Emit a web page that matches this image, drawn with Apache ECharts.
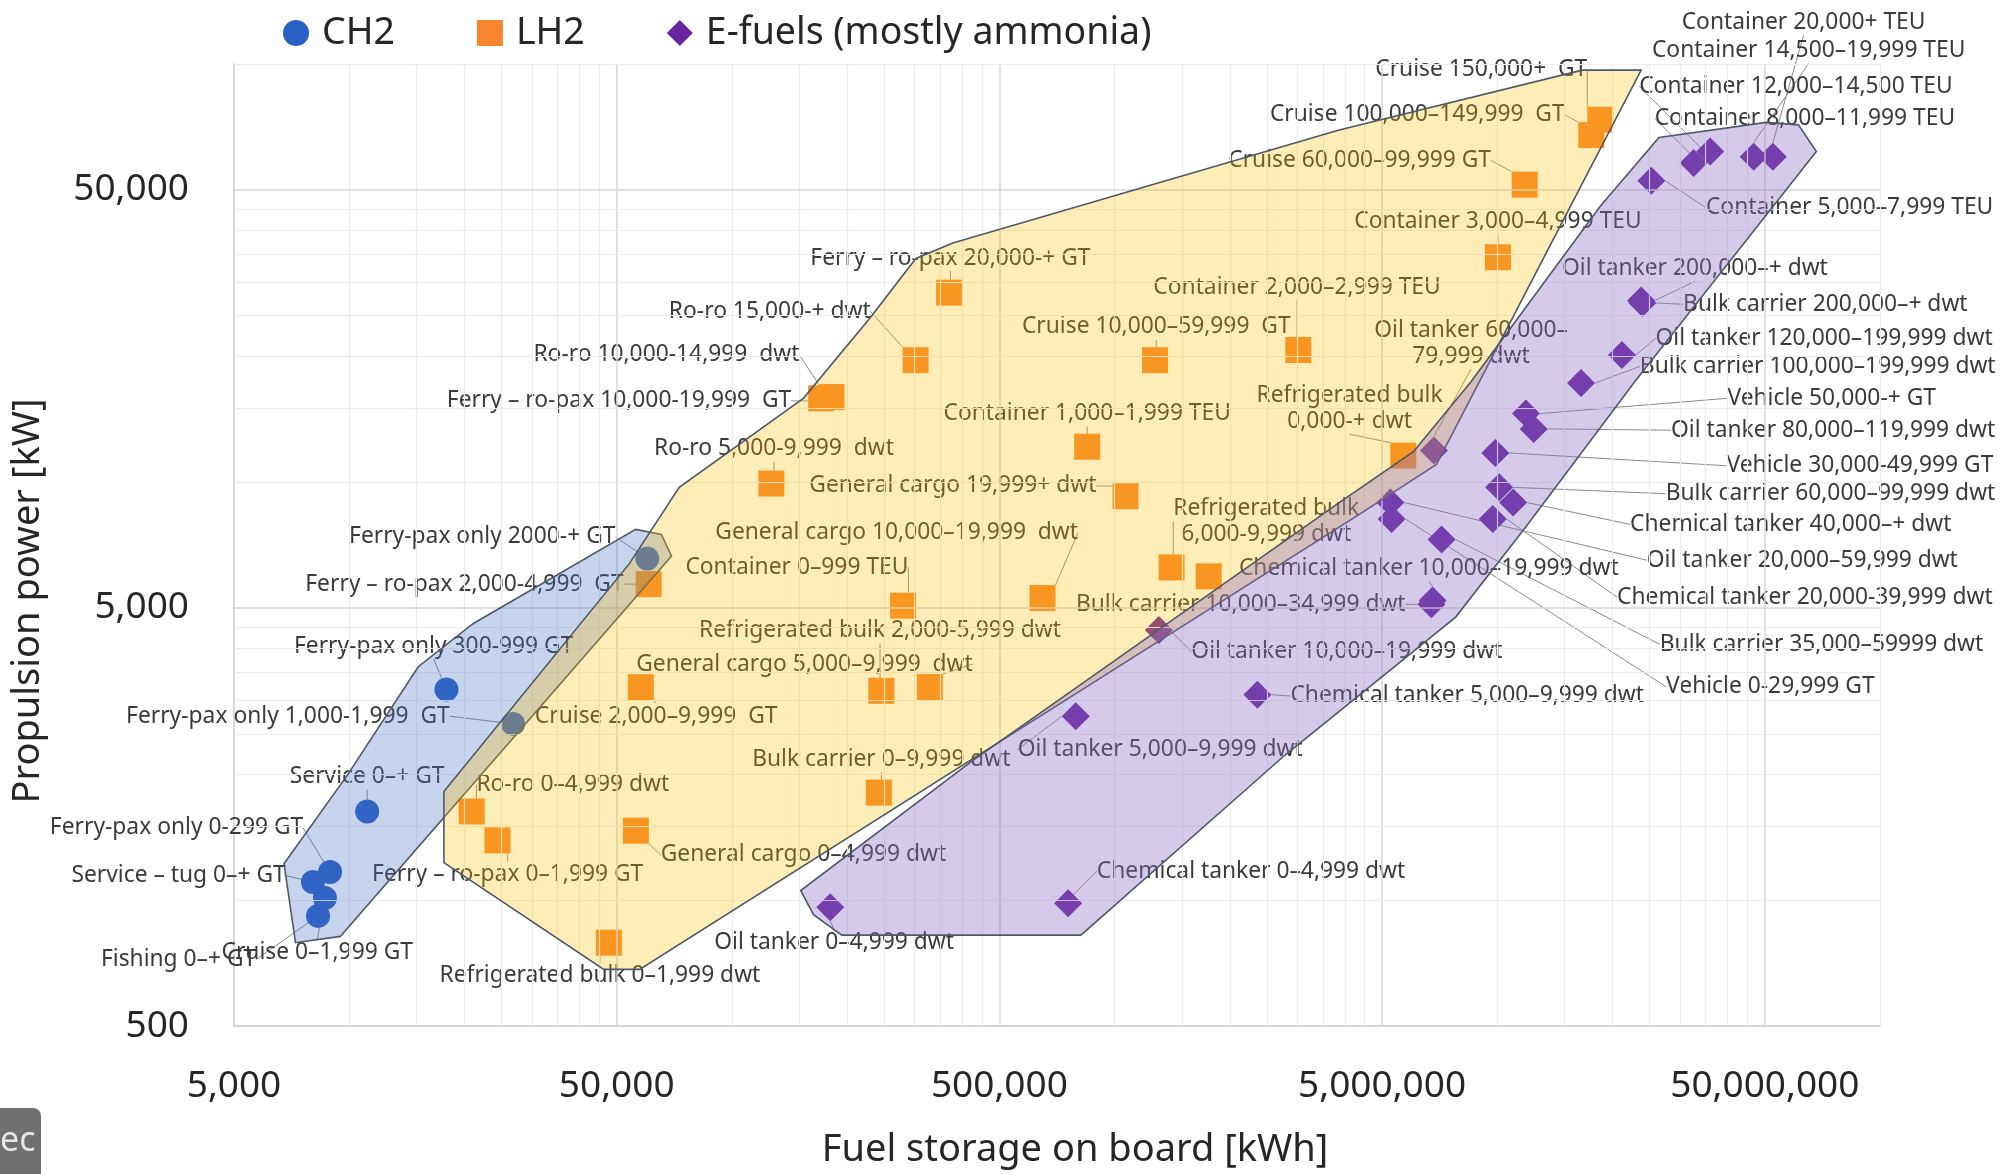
<!DOCTYPE html>
<html>
<head>
<meta charset="utf-8">
<script src="https://cdn.jsdelivr.net/npm/echarts@6/dist/echarts.min.js"></script>
<style>
html,body{margin:0;padding:0;background:#ffffff;}
#chart{width:2006px;height:1174px;}
</style>
</head>
<body>
<div id="chart"></div>
<script>
// ---------------- DATA ----------------
const xTickValues = [5000, 50000, 500000, 5000000, 50000000];
const yTickValues = [500, 5000, 50000];

const ch2Names = ['Ferry-pax only 2000-+ GT','Ferry-pax only 300-999 GT','Ferry-pax only 1,000-1,999  GT','Service 0–+ GT','Ferry-pax only 0-299 GT','Service – tug 0–+ GT','Cruise 0–1,999 GT','Fishing 0–+ GT'];
const ch2Fuel  = [60100, 17950, 26800, 11140, 8910, 8040, 8640, 8290];
const ch2Power = [6560, 3190, 2640, 1630, 1167, 1105, 1012, 917];

const lh2Names = ['Ferry – ro-pax 2,000-4,999  GT','Cruise 2,000–9,999  GT','Ro-ro 0–4,999 dwt','Ferry – ro-pax 0–1,999 GT','General cargo 0–4,999 dwt','Refrigerated bulk 0–1,999 dwt','Ro-ro 5,000-9,999  dwt','Ferry – ro-pax 10,000-19,999  GT','Ro-ro 10,000-14,999  dwt','Ro-ro 15,000-+ dwt','Ferry – ro-pax 20,000-+ GT','General cargo 19,999+ dwt','General cargo 10,000–19,999  dwt','Container 0–999 TEU','Refrigerated bulk 2,000-5,999 dwt','General cargo 5,000–9,999  dwt','Bulk carrier 0–9,999 dwt','Container 1,000–1,999 TEU','Cruise 10,000–59,999  GT','Container 2,000–2,999 TEU','Refrigerated bulk\n6,000-9,999 dwt','Bulk carrier 10,000–34,999 dwt','Refrigerated bulk\n0,000-+ dwt','Container 3,000–4,999 TEU','Cruise 60,000–99,999 GT','Cruise 100,000–149,999  GT','Cruise 150,000+  GT'];
const lh2Fuel  = [60600, 57800, 20900, 24400, 56100, 47700, 126800, 171100, 182000, 302000, 369500, 1068000, 648000, 280100, 245700, 329000, 242000, 848000, 1275000, 3020000, 1409000, 1762000, 5680000, 10040000, 11790000, 17600000, 18580000];
const lh2Power = [5700, 3230, 1630, 1390, 1466, 791, 9920, 15860, 15970, 19570, 28380, 9250, 5280, 5063, 3167, 3234, 1808, 12150, 19570, 20700, 6250, 5950, 11570, 34500, 51450, 67600, 73550];

const efNames = ['Oil tanker 0–4,999 dwt','Chemical tanker 0–4,999 dwt','Oil tanker 5,000–9,999 dwt','Chemical tanker 5,000–9,999 dwt','Oil tanker 10,000–19,999 dwt','Bulk carrier 10,000–34,999 dwt','Chemical tanker 10,000–19,999 dwt','Oil tanker 20,000–59,999 dwt','Vehicle 0-29,999 GT','Bulk carrier 35,000–59999 dwt','Chemical tanker 20,000-39,999 dwt','Bulk carrier 60,000–99,999 dwt','Chemical tanker 40,000–+ dwt','Vehicle 30,000-49,999 GT','Vehicle 50,000-+ GT','Oil tanker 80,000–119,999 dwt','Oil tanker 60,000–\n79,999 dwt','Bulk carrier 100,000–199,999 dwt','Oil tanker 120,000–199,999 dwt','Oil tanker 200,000–+ dwt','Bulk carrier 200,000–+ dwt','Container 5,000–7,999 TEU','Container 8,000–11,999 TEU','Container 12,000–14,500 TEU','Container 14,500–19,999 TEU','Container 20,000+ TEU'];
const efFuel  = [180700, 756000, 791600, 2361000, 1305000, 6725000, 6776000, 5255000, 5296000, 7150000, 9730000, 10110000, 11000000, 9880000, 11880000, 12450000, 6830000, 16550000, 21170000, 23760000, 23940000, 25260000, 32580000, 36000000, 46760000, 52490000];
const efPower = [962, 983, 2753, 3100, 4430, 5100, 5207, 8930, 8155, 7290, 8155, 9715, 8930, 11740, 14580, 13400, 11900, 17250, 20130, 27200, 26810, 52550, 57960, 61740, 60040, 60040];

// Region outlines (hull vertices, in data units)
const ch2RegionFuel  = [6755, 7240, 9477, 69550, 65400, 56060, 21110, 15150, 9850];
const ch2RegionPower = [1222, 791, 819, 6655, 7496, 7708, 4590, 3617, 1980];
const lh2RegionFuel  = [17680, 17680, 53960, 72850, 153700, 229300, 302500, 378000, 3863000, 16670000, 23760000, 6934000, 4370000, 57400, 46260];
const lh2RegionPower = [1230, 1820, 6381, 9715, 15860, 24660, 34280, 37300, 69550, 96660, 96660, 11020, 8385, 683, 683];
const efRegionFuel  = [151300, 163400, 193600, 816500, 2775000, 7785000, 11880000, 22860000, 68190000, 61200000, 50500000, 26450000, 18580000, 8537000, 6037000, 3863000, 424600];
const efRegionPower = [1054, 923, 825, 825, 2215, 4754, 7819, 17370, 61740, 71520, 72500, 66690, 45680, 17370, 11820, 8930, 2154];

// ---------------- LAYOUT (label offsets, reference units) ----------------
const K = 1.2793;
const ch2LabelOffset = [[-129,-17],[-10,-34],[-176,-6],[0,-27],[-120,-34.5],[-105,-5],[-6,43],[-109,34]];
const lh2LabelOffset = [[-144,0],[12,23],[79,-21],[8,27],[131,19],[-7,26],[2,-27],[-158,2],[-129,-33],[-114,-38],[1,-27],[-135,-8],[-114,-51],[-83,-30],[-1,-47],[-98,-18],[2,-26],[0,-26],[1,-26],[-1,-49],[74,-36],null,[-42,-37],[0,-28],[-129,-19],[-136,-16],[-93,-39]];
const efLabelOffset = [[3,28],[143,-25],[66,26],[164,1],[147,17],[-149,0],[-3,-25],[322,45],[296,131],[297,82],[244,61],[259,5],[217,17],[285,10],[239,-12],[234,1],[29,-84],[185,-13],[158,-13],[42,-25],[143,1],[155,21],[87,-35],[67,-51],[43,-83],[24,-105]];

const FONT = '"Noto Sans", "Open Sans", sans-serif';
const TXT = '#262626';

function buildData(names, xs, ys, offs) {
  return xs.map((x, i) => ({
    name: names[i],
    value: [x, ys[i]],
    label: { show: offs[i] !== null }
  }));
}

function pointSeries(name, names, xs, ys, offs, symbol, size, color) {
  return {
    name: name,
    type: 'scatter',
    symbol: symbol,
    symbolSize: size,
    z: 2,
    itemStyle: { color: color, opacity: 1 },
    emphasis: { disabled: true },
    data: buildData(names, xs, ys, offs),
    label: {
      show: true,
      position: 'inside',
      formatter: '{b}',
      fontFamily: FONT,
      fontSize: 22.8,
      lineHeight: 26,
      color: '#3a3a3a',
      align: 'center'
    },
    labelLine: { show: true, length2: 0, lineStyle: { color: '#8a8a8a', width: 1 } },
    labelLayout: function (p) {
      const o = offs[p.dataIndex];
      if (!o) return {};
      return { dx: o[0] * K, dy: o[1] * K };
    }
  };
}

function regionSeries(fuels, powers, fill) {
  return {
    type: 'custom',
    silent: true,
    z: 5,
    data: fuels.map((x, i) => [x, powers[i]]),
    encode: { x: 0, y: 1 },
    renderItem: function (params, api) {
      if (params.dataIndex !== 0) return null;
      const pts = fuels.map((x, i) => api.coord([x, powers[i]]));
      return {
        type: 'polygon',
        shape: { points: pts },
        style: { fill: fill, stroke: '#4f5866', lineWidth: 1.6 }
      };
    }
  };
}

// gridlines (major at 5·10^n, minor at k·5·10^n)
const gridMultipliers = [2, 3, 4, 5, 6, 7, 8, 9];
function gridLines(bases, maxV, axisKey) {
  const out = [];
  bases.forEach((b, bi) => {
    if (bi > 0) out.push({ [axisKey]: b, lineStyle: { color: '#d6d6d6', width: 1.5, type: 'solid' } });
    gridMultipliers.forEach(k => {
      const v = b * k;
      if (v <= maxV * 1.0001) out.push({ [axisKey]: v, lineStyle: { color: '#ececec', width: 1.2, type: 'solid' } });
    });
  });
  return out;
}

const chart = echarts.init(document.getElementById('chart'), null, { renderer: 'canvas' });

const option = {
  backgroundColor: '#ffffff',
  animation: false,
  textStyle: { fontFamily: FONT },
  grid: { left: 234, right: 126, top: 64, bottom: 142, containLabel: false },
  legend: {
    data: ['CH2', 'LH2', 'E-fuels (mostly ammonia)'],
    left: 278,
    top: 9,
    itemWidth: 26,
    itemHeight: 26,
    itemGap: 82,
    textStyle: { fontSize: 37.5, color: TXT, fontFamily: FONT, padding: [0, 0, 0, 8] },
    selectedMode: false
  },
  xAxis: {
    type: 'log',
    logBase: 10,
    min: 5000,
    max: 100000000,
    name: 'Fuel storage on board [kWh]',
    nameLocation: 'middle',
    nameGap: 105,
    nameTextStyle: { fontSize: 38, color: TXT, fontFamily: FONT, padding: [0, 0, 0, 36] },
    splitLine: { show: false },
    minorSplitLine: { show: false },
    axisTick: { show: false },
    axisLine: { show: true, onZero: false, lineStyle: { color: '#d3d3d3', width: 2 } },
    axisLabel: {
      customValues: xTickValues,
      fontSize: 37,
      color: TXT,
      fontFamily: FONT,
      margin: 42,
      formatter: v => Math.round(v).toLocaleString('en-US')
    }
  },
  yAxis: {
    type: 'log',
    logBase: 10,
    min: 500,
    max: 100000,
    name: 'Propulsion power [kW]',
    nameLocation: 'middle',
    nameRotate: 90,
    nameGap: 187,
    nameTextStyle: { fontSize: 38, color: TXT, fontFamily: FONT, padding: [0, 112, 0, 0] },
    splitLine: { show: false },
    axisTick: { show: false },
    axisLine: { show: true, onZero: false, lineStyle: { color: '#d9d9d9', width: 2 } },
    axisLabel: {
      customValues: yTickValues,
      fontSize: 37,
      color: TXT,
      fontFamily: FONT,
      margin: 45,
      formatter: v => Math.round(v).toLocaleString('en-US')
    }
  },
  graphic: [
    { type: 'rect', left: 0, top: 1108, shape: { width: 41, height: 66, r: [0, 8, 0, 0] }, style: { fill: '#707070' }, z: 100 },
    { type: 'text', left: 0, top: 1124, style: { text: 'ec', fill: '#e6e6e6', font: '34px "Noto Sans"' }, z: 101 }
  ],
  series: [
    {
      type: 'scatter',
      name: 'grid',
      data: [],
      z: 0,
      silent: true,
      markLine: {
        silent: true,
        symbol: ['none', 'none'],
        label: { show: false },
        animation: false,
        data: gridLines(xTickValues, 100000000, 'xAxis').concat(gridLines(yTickValues, 100000, 'yAxis'))
      }
    },
    pointSeries('CH2', ch2Names, ch2Fuel, ch2Power, ch2LabelOffset, 'circle', 24, '#2a5fc6'),
    pointSeries('LH2', lh2Names, lh2Fuel, lh2Power, lh2LabelOffset, 'rect', 26, '#f7862e'),
    pointSeries('E-fuels (mostly ammonia)', efNames, efFuel, efPower, efLabelOffset, 'diamond', 28, '#66259f'),
    regionSeries(ch2RegionFuel, ch2RegionPower, 'rgba(68,114,196,0.30)'),
    regionSeries(lh2RegionFuel, lh2RegionPower, 'rgba(255,192,0,0.28)'),
    regionSeries(efRegionFuel, efRegionPower, 'rgba(140,108,200,0.36)')
  ]
};
chart.setOption(option);
</script>
</body>
</html>
